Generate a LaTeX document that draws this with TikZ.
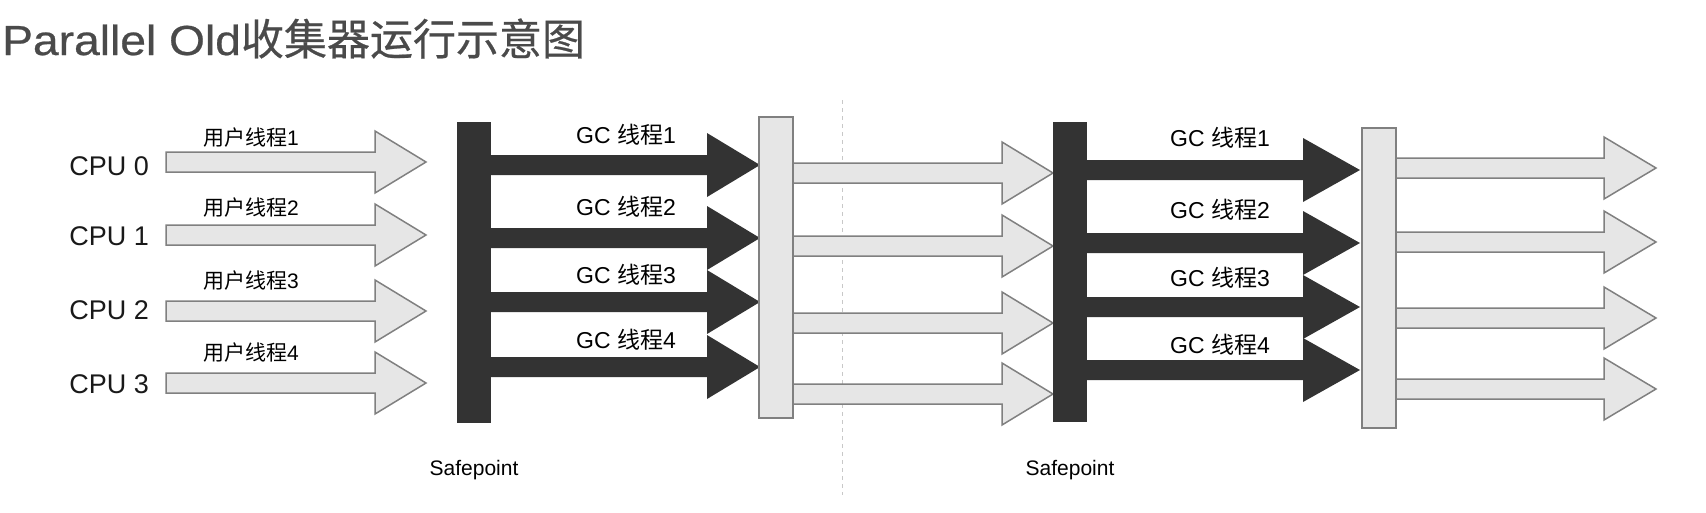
\documentclass[tikz,border=0pt]{standalone}
\usepackage{fontspec}
\setmainfont{Liberation Sans}
\newfontfamily\cjk{Noto Sans CJK SC}
\newfontfamily\titlefont[FakeStretch=1.1,FakeBold=0.6]{Liberation Sans}
\newfontfamily\cjktitle[FakeBold=0.5]{Noto Sans CJK SC}
\definecolor{barblack}{HTML}{333333}
\definecolor{barfill}{HTML}{E6E6E6}
\definecolor{barline}{HTML}{808080}
\definecolor{titlegray}{HTML}{4A4A4A}
\definecolor{splitline}{HTML}{C8C8C8}
\tikzset{
  grayarrow/.style={fill=barfill, draw=barline, line width=1.5pt},
  blackarrow/.style={fill=barblack},
  blackbar/.style={fill=barblack, inner sep=0, minimum width=34pt},
  graybar/.style={fill=barfill, draw=barline, line width=1.5pt, inner sep=0, minimum width=34pt},
  cpulabel/.style={anchor=base east, inner sep=0, text=black!90, font=\fontsize{27}{30}\selectfont},
  userlabel/.style={inner sep=0, font=\fontsize{21}{24}\selectfont},
  gclabel/.style={inner sep=0, font=\fontsize{23}{26}\selectfont},
  safelabel/.style={anchor=base, inner sep=0, font=\fontsize{21}{24}\selectfont}
}
\begin{document}
\begin{tikzpicture}[x=1pt,y=-1pt]
  \useasboundingbox (0,0) rectangle (1706,512);
  \node[anchor=base west, inner sep=0, text=titlegray, font=\titlefont\fontsize{42}{48}\selectfont] (title) at (2,55)
    {Parallel Old{\cjktitle\fontsize{43}{48}\selectfont 收集器运行示意图}};
  \draw[splitline, line width=1pt, dash pattern=on 4pt off 4pt] (842,100) -- (842,495);
  % user threads
  \foreach \c in {162,235,311,383}
    \draw[grayarrow] (166,\c-10) -- (375,\c-10) -- (375,\c-31) -- (426,\c)
      -- (375,\c+31) -- (375,\c+10) -- (166,\c+10) -- cycle;
  % gc threads
  \foreach \c in {165,238,302,367}
    \fill[blackarrow] (480,\c-10) -- (707,\c-10) -- (707,\c-32) -- (760,\c)
      -- (707,\c+32) -- (707,\c+10) -- (480,\c+10) -- cycle;
  \foreach \c in {173,246,323,394}
    \draw[grayarrow] (792,\c-10) -- (1002,\c-10) -- (1002,\c-31) -- (1053,\c)
      -- (1002,\c+31) -- (1002,\c+10) -- (792,\c+10) -- cycle;
  \foreach \c in {170,243,307,370}
    \fill[blackarrow] (1080,\c-10) -- (1303,\c-10) -- (1303,\c-32) -- (1360,\c)
      -- (1303,\c+32) -- (1303,\c+10) -- (1080,\c+10) -- cycle;
  \foreach \c in {168,242,318,389}
    \draw[grayarrow] (1395,\c-10) -- (1604,\c-10) -- (1604,\c-31) -- (1656,\c)
      -- (1604,\c+31) -- (1604,\c+10) -- (1395,\c+10) -- cycle;
  % bars
  \node[blackbar, minimum height=301pt] (safe1) at (474,272.5) {};
  \node[graybar, minimum height=301pt] (stop1) at (776,267.5) {};
  \node[blackbar, minimum height=300pt] (safe2) at (1070,272) {};
  \node[graybar, minimum height=300pt] (stop2) at (1379,278) {};
  % labels
  \node[cpulabel] (cpu0) at (149,175) {CPU 0};
  \node[cpulabel] (cpu1) at (149,245) {CPU 1};
  \node[cpulabel] (cpu2) at (149,319) {CPU 2};
  \node[cpulabel] (cpu3) at (149,393) {CPU 3};
  \node[userlabel] (user1) at (251,137.5) {{\cjk 用户线程}1};
  \node[userlabel] (user2) at (251,207.5) {{\cjk 用户线程}2};
  \node[userlabel] (user3) at (251,281) {{\cjk 用户线程}3};
  \node[userlabel] (user4) at (251,353) {{\cjk 用户线程}4};
  \node[gclabel] (gca1) at (626,135) {GC {\cjk 线程}1};
  \node[gclabel] (gca2) at (626,207) {GC {\cjk 线程}2};
  \node[gclabel] (gca3) at (626,275) {GC {\cjk 线程}3};
  \node[gclabel] (gca4) at (626,340) {GC {\cjk 线程}4};
  \node[gclabel] (gcb1) at (1220,138) {GC {\cjk 线程}1};
  \node[gclabel] (gcb2) at (1220,210) {GC {\cjk 线程}2};
  \node[gclabel] (gcb3) at (1220,278) {GC {\cjk 线程}3};
  \node[gclabel] (gcb4) at (1220,345) {GC {\cjk 线程}4};
  \node[safelabel] (sp1) at (474,475) {Safepoint};
  \node[safelabel] (sp2) at (1070,475) {Safepoint};
\end{tikzpicture}
\end{document}
